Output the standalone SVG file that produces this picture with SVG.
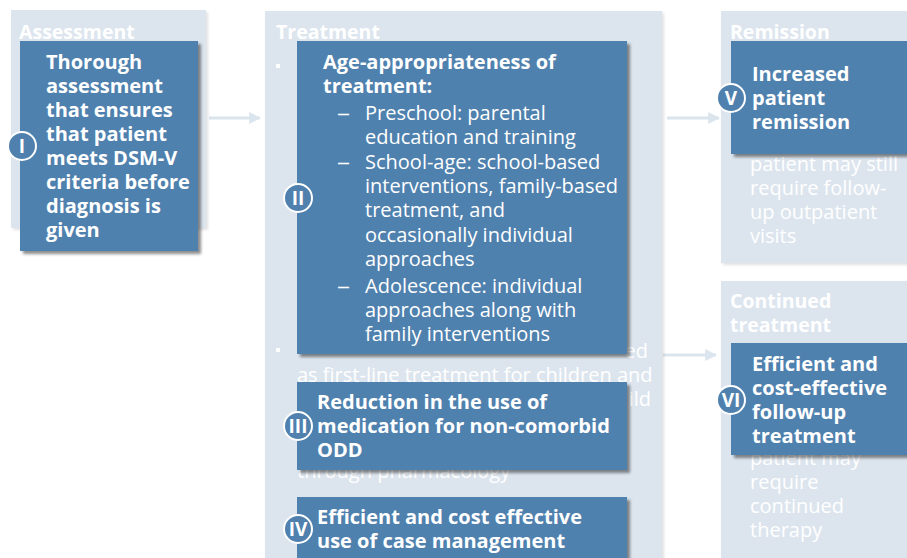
<svg xmlns="http://www.w3.org/2000/svg" width="907" height="558" viewBox="0 0 907 558">
<defs>
<filter id="sh" x="-10%" y="-10%" width="130%" height="130%">
<feGaussianBlur in="SourceAlpha" stdDeviation="1.5"/>
<feOffset dx="3" dy="3" result="b"/>
<feComponentTransfer><feFuncA type="linear" slope="0.45"/></feComponentTransfer>
<feMerge><feMergeNode/><feMergeNode in="SourceGraphic"/></feMerge>
</filter>
<filter id="psh" x="-10%" y="-10%" width="130%" height="130%">
<feGaussianBlur in="SourceAlpha" stdDeviation="1.5"/>
<feOffset dx="2" dy="2" result="b"/>
<feComponentTransfer><feFuncA type="linear" slope="0.12"/></feComponentTransfer>
<feMerge><feMergeNode/><feMergeNode in="SourceGraphic"/></feMerge>
</filter>
<marker id="ah" viewBox="0 0 10 10" refX="9" refY="5" markerWidth="4" markerHeight="4" orient="auto" markerUnits="strokeWidth">
<path d="M0,0 L10,5 L0,10 z" fill="#dbe5ee"/>
</marker>
</defs>
<style>
.panel{fill:#dce5ee;filter:url(#psh)}
.ptitle{font-family:"Open Sans","Liberation Sans",sans-serif;font-weight:bold;font-size:19.5px;fill:#ffffff}
.bg{font-family:"Open Sans","Liberation Sans",sans-serif;font-size:20px;fill:#ffffff}
.box{fill:#5081ae;filter:url(#sh)}
.bt{font-family:"Open Sans","Liberation Sans",sans-serif;font-weight:bold;font-size:20px;fill:#ffffff}
.rt{font-family:"Open Sans","Liberation Sans",sans-serif;font-size:20px;fill:#ffffff}
.badge{fill:#5081ae;stroke:#ffffff;stroke-width:2}
.bl{font-family:"Open Sans","Liberation Sans",sans-serif;font-weight:bold;font-size:19px;fill:#ffffff;text-anchor:middle}
.conn{stroke:#dbe5ee;stroke-width:3;fill:none;marker-end:url(#ah)}
.sq{fill:#ffffff}
</style>

<g id="connectors">
<line class="conn" x1="209" y1="118" x2="260" y2="118"/>
<line class="conn" x1="667" y1="118" x2="719" y2="118"/>
<line class="conn" x1="663" y1="355" x2="716" y2="355"/>
</g>

<g id="assessment">
<rect class="panel" x="11" y="10" width="195" height="218"/>
<text class="ptitle" x="19" y="39">Assessment</text>
</g>

<g id="treatment">
<rect class="panel" x="265" y="11" width="397" height="560"/>
<text class="ptitle" x="276" y="39">Treatment</text>
<rect class="sq" x="276" y="64" width="4" height="4"/>
<rect class="sq" x="276" y="348" width="4" height="4"/>
<text class="bg" x="648" y="358" text-anchor="end">ed</text>
<text class="bg" x="297" y="382">as first-line treatment for children and</text>
<text class="bg" x="651" y="406" text-anchor="end">ild</text>
<text class="bg" x="297" y="478">through pharmacology</text>
</g>

<g id="remission">
<rect class="panel" x="721" y="11" width="200" height="252"/>
<text class="ptitle" x="730" y="39">Remission</text>
<text class="bg" x="750" y="171">patient may still</text>
<text class="bg" x="750" y="195">require follow-</text>
<text class="bg" x="750" y="219">up outpatient</text>
<text class="bg" x="750" y="243">visits</text>
</g>

<g id="continued">
<rect class="panel" x="721" y="281" width="200" height="290"/>
<text class="ptitle" x="730" y="308">Continued</text>
<text class="ptitle" x="730" y="332">treatment</text>
<text class="bg" x="750" y="465">patient may</text>
<text class="bg" x="750" y="489">require</text>
<text class="bg" x="750" y="513">continued</text>
<text class="bg" x="750" y="537">therapy</text>
</g>

<g id="node-I">
<rect class="box" x="20" y="41" width="178" height="210"/>
<text class="bt" x="46" y="69">Thorough</text>
<text class="bt" x="46" y="93">assessment</text>
<text class="bt" x="46" y="117">that ensures</text>
<text class="bt" x="46" y="141">that patient</text>
<text class="bt" x="46" y="165">meets DSM-V</text>
<text class="bt" x="46" y="189">criteria before</text>
<text class="bt" x="46" y="213">diagnosis is</text>
<text class="bt" x="46" y="237">given</text>
<circle class="badge" cx="22" cy="146" r="14"/>
<text class="bl" x="22" y="153">I</text>
</g>

<g id="node-II">
<rect class="box" x="297" y="41" width="330" height="313"/>
<text class="bt" x="323" y="69">Age-appropriateness of</text>
<text class="bt" x="323" y="93">treatment:</text>
<text class="rt" transform="translate(337,120) scale(1.3,1)">–</text>
<text class="rt" x="365" y="120">Preschool: parental</text>
<text class="rt" x="365" y="144">education and training</text>
<text class="rt" transform="translate(337,169) scale(1.3,1)">–</text>
<text class="rt" x="365" y="169">School-age: school-based</text>
<text class="rt" x="365" y="193">interventions, family-based</text>
<text class="rt" x="365" y="217">treatment, and</text>
<text class="rt" x="365" y="242">occasionally individual</text>
<text class="rt" x="365" y="266">approaches</text>
<text class="rt" transform="translate(337,293) scale(1.3,1)">–</text>
<text class="rt" x="365" y="293">Adolescence: individual</text>
<text class="rt" x="365" y="317">approaches along with</text>
<text class="rt" x="365" y="341">family interventions</text>
<circle class="badge" cx="298" cy="198" r="14"/>
<text class="bl" x="298" y="205">II</text>
</g>

<g id="node-III">
<rect class="box" x="297" y="382" width="330" height="88"/>
<text class="bt" x="317" y="409">Reduction in the use of</text>
<text class="bt" x="317" y="433">medication for non-comorbid</text>
<text class="bt" x="317" y="457">ODD</text>
<circle class="badge" cx="298" cy="426" r="14"/>
<text class="bl" x="298" y="433">III</text>
</g>

<g id="node-IV">
<rect class="box" x="297" y="497" width="330" height="80"/>
<text class="bt" x="317" y="524">Efficient and cost effective</text>
<text class="bt" x="317" y="548">use of case management</text>
<circle class="badge" cx="298" cy="529" r="14"/>
<text class="bl" x="298" y="536">IV</text>
</g>

<g id="node-V">
<rect class="box" x="731" y="41" width="190" height="113"/>
<text class="bt" x="752" y="81">Increased</text>
<text class="bt" x="752" y="105">patient</text>
<text class="bt" x="752" y="129">remission</text>
<circle class="badge" cx="731" cy="98" r="14"/>
<text class="bl" x="731" y="105">V</text>
</g>

<g id="node-VI">
<rect class="box" x="731" y="343" width="190" height="112"/>
<text class="bt" x="752" y="371">Efficient and</text>
<text class="bt" x="752" y="395">cost-effective</text>
<text class="bt" x="752" y="419">follow-up</text>
<text class="bt" x="752" y="443">treatment</text>
<circle class="badge" cx="731" cy="400" r="14"/>
<text class="bl" x="731" y="407">VI</text>
</g>
</svg>
